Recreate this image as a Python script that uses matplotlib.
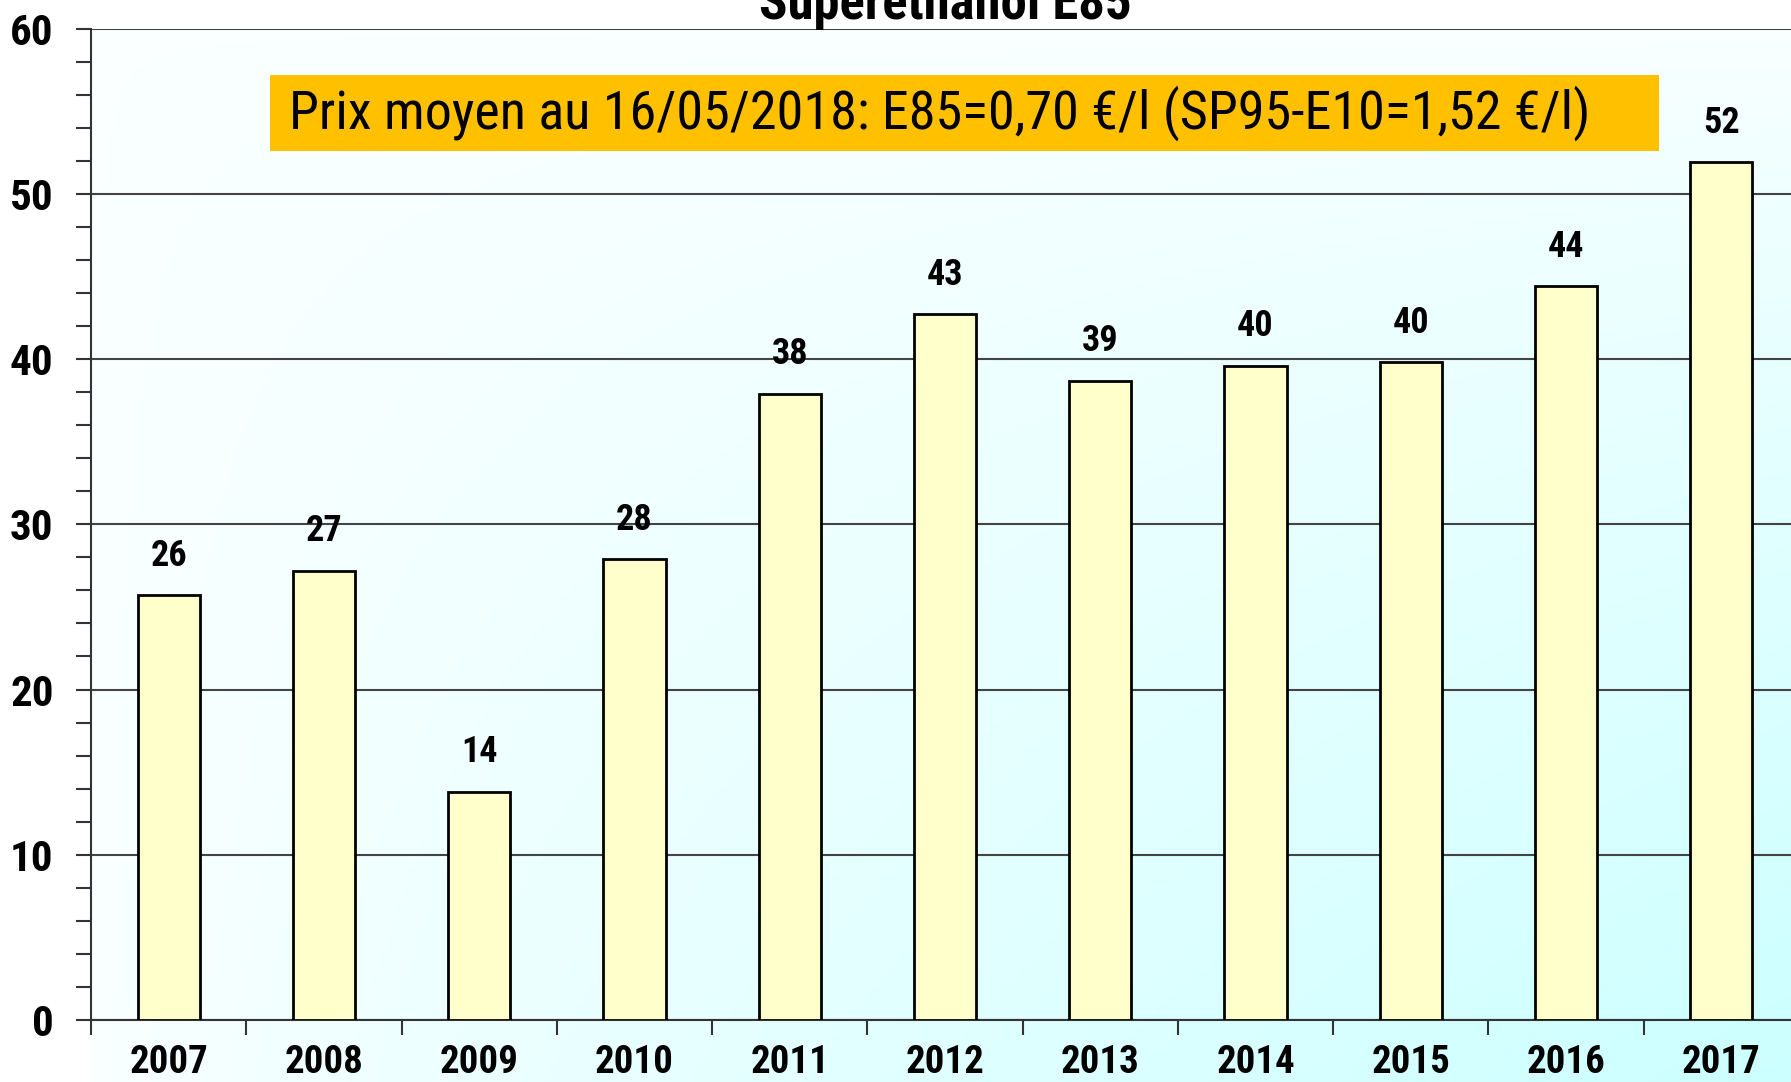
import numpy as np
import matplotlib.pyplot as plt
from matplotlib.colors import LinearSegmentedColormap
from matplotlib.patches import Rectangle

years = ['2007', '2008', '2009', '2010', '2011', '2012', '2013', '2014', '2015', '2016', '2017']
values = [25.7, 27.2, 13.8, 27.9, 37.9, 42.7, 38.7, 39.6, 39.8, 44.4, 51.9]
y_ticks = [0, 10, 20, 30, 40, 50, 60]
title = 'Superethanol E85'
note = 'Prix moyen au 16/05/2018: E85=0,70 €/l (SP95-E10=1,52 €/l)'

plt.rcParams['font.family'] = ['Roboto Condensed', 'PT Sans Narrow', 'Liberation Sans', 'DejaVu Sans']

fig = plt.figure(figsize=(17.91, 10.82), dpi=100)
fig.patch.set_facecolor('white')

left = 91 / 1791
bottom = 1 - 1020 / 1082
top = 1 - 28.6 / 1082
right = 1799 / 1791

# gradient background (white top-left -> light cyan bottom-right)
bg = fig.add_axes([left, 0, 1 - left, top], zorder=0)
gx, gy = np.meshgrid(np.linspace(0, 1, 300), np.linspace(0, 1, 300))
grad = (gx * gy) ** 0.8
cmap = LinearSegmentedColormap.from_list('bg', ['#FAFFFF', '#CCFFFF'])
bg.imshow(grad, cmap=cmap, aspect='auto', extent=[0, 1, 0, 1], origin='upper')
bg.axis('off')

ax = fig.add_axes([left, bottom, right - left, top - bottom], zorder=1)
ax.patch.set_alpha(0)

x = np.arange(len(years))
ax.bar(x, values, width=0.4, color='#FFFFCC', edgecolor='black', linewidth=2, zorder=3)
for xi, v in zip(x, values):
    ax.text(xi, v + 1.3, f'{v:.0f}', ha='center', va='bottom', fontsize=26,
            fontweight='bold', zorder=4)

ax.set_xlim(-0.5, len(years) - 0.5)
ax.set_ylim(0, 60)
ax.set_yticks(y_ticks)
ax.set_yticks(np.arange(0, 61, 2), minor=True)
ax.set_yticklabels([str(t) for t in y_ticks], fontsize=31, fontweight='bold')
ax.set_xticks(x)
ax.set_xticklabels(years, fontsize=28, fontweight='bold')
ax.set_xticks(np.arange(-0.5, len(years)), minor=True)
ax.tick_params(axis='x', which='major', length=0, pad=17)
ax.tick_params(axis='x', which='minor', length=11, width=1.5, color='#333333', direction='out')
ax.tick_params(axis='y', which='both', length=11, width=1.5, color='#333333', direction='out', pad=16)
ax.yaxis.grid(True, which='major', color='#444444', linewidth=1.5, zorder=1)
ax.set_axisbelow(True)
for s in ['top', 'right']:
    ax.spines[s].set_visible(False)
for s in ['left', 'bottom']:
    ax.spines[s].set_color('#333333')
    ax.spines[s].set_linewidth(1.5)

# title (partly cut by top edge)
fig.text((left + right) / 2, 1 - 19.5 / 1082, title, ha='center', va='baseline',
         fontsize=38, fontweight='bold')

# note box
fig.patches.append(Rectangle((269.6 / 1791, 1 - 151 / 1082), (1658.5 - 269.6) / 1791,
                             76 / 1082, transform=fig.transFigure, facecolor='#FFC000',
                             edgecolor='none', zorder=5))
fig.text(289 / 1791, 1 - 113 / 1082, note, ha='left', va='center', fontsize=39, zorder=6)

fig.savefig('out.png', dpi=100)
